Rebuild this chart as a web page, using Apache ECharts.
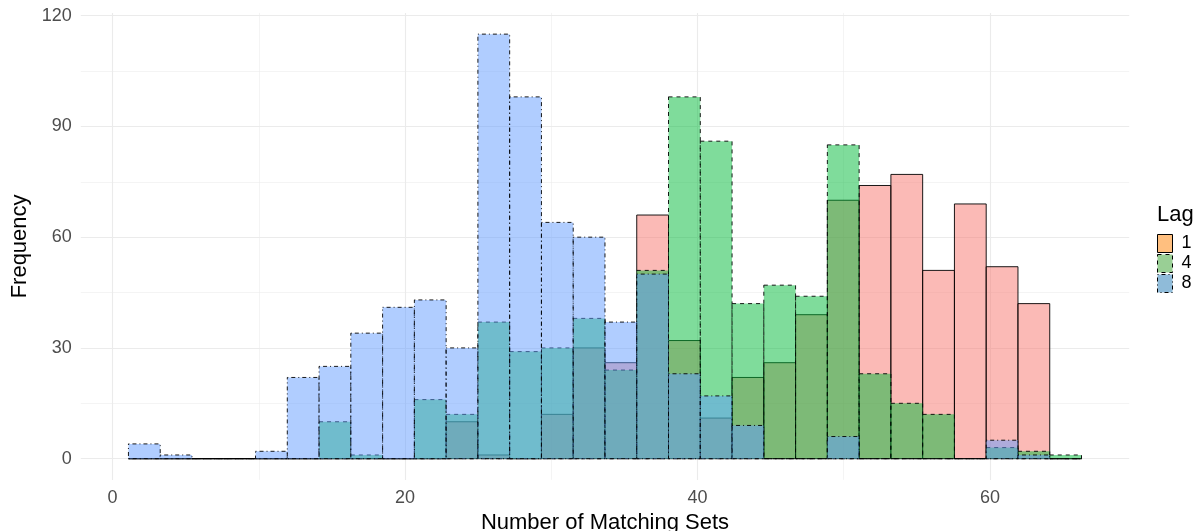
<!DOCTYPE html>
<html>
<head>
<meta charset="utf-8">
<script src="https://cdn.jsdelivr.net/npm/echarts@6/dist/echarts.min.js"></script>
<style>
  html, body { margin: 0; padding: 0; background: #ffffff; }
  #chart { width: 1199px; height: 531px; }
</style>
</head>
<body>
<div id="chart"></div>
<script>
// ---- Data (histogram, 30 bins of width 63/29 centred on multiples of the width) ----
const binWidth = 63 / 29;
const binCount = 30;
const lagNames = ['1', '4', '8'];
const lag1Counts = [0, 0, 0, 0, 0, 0, 0, 0, 0, 0, 10, 1, 0, 12, 30, 26, 66, 32, 11, 22, 26, 39, 70, 74, 77, 51, 69, 52, 42, 0];
const lag4Counts = [0, 0, 0, 0, 0, 0, 10, 1, 0, 16, 12, 37, 29, 30, 38, 24, 51, 98, 86, 42, 47, 44, 85, 23, 15, 12, 0, 3, 2, 1];
const lag8Counts = [4, 1, 0, 0, 2, 22, 25, 34, 41, 43, 30, 115, 98, 64, 60, 37, 50, 23, 17, 9, 0, 0, 6, 0, 0, 0, 0, 5, 1, 0];
const xTickLabels = ['0', '20', '40', '60'];
const yTickLabels = ['0', '30', '60', '90', '120'];

const binCenters = [];
for (let k = 1; k <= binCount; k++) binCenters.push(k * binWidth);

const FONT = 'Liberation Sans, Arial, Helvetica, sans-serif';

function histSeries(name, counts, fill, dash) {
  return {
    type: 'custom',
    name: name,
    data: counts.map((v, i) => [binCenters[i], v]),
    encode: { x: 0, y: 1 },
    renderItem: function (params, api) {
      const c = api.value(0);
      const v = api.value(1);
      const p0 = api.coord([c - binWidth / 2, v]);
      const p1 = api.coord([c + binWidth / 2, 0]);
      return {
        type: 'rect',
        shape: { x: p0[0], y: p0[1], width: p1[0] - p0[0], height: p1[1] - p0[1] },
        style: { fill: fill, stroke: '#000000', lineWidth: 0.9, lineDash: dash }
      };
    }
  };
}

const chart = echarts.init(document.getElementById('chart'), null, { renderer: 'canvas' });
chart.setOption({
  animation: false,
  backgroundColor: '#ffffff',
  grid: { left: 80.8, top: 12.9, width: 1048.4, height: 467, containLabel: false, outerBoundsMode: 'none' },
  xAxis: {
    type: 'value',
    min: -2.172,
    max: 69.52,
    splitNumber: 4,
    name: 'Number of Matching Sets',
    nameLocation: 'middle',
    nameGap: 29,
    nameTextStyle: { fontSize: 22, color: '#000000', fontFamily: FONT },
    axisLine: { show: false },
    axisTick: { show: false },
    axisLabel: {
      showMinLabel: false, showMaxLabel: false,
      color: '#4D4D4D', fontSize: 18, fontFamily: FONT, margin: 9,
      formatter: function (v) { const s = String(Math.round(v)); return xTickLabels.indexOf(s) >= 0 ? s : ''; }
    },
    splitLine: { show: true, showMinLine: false, showMaxLine: false, lineStyle: { color: '#EBEBEB', width: 1.1 } },
    minorTick: { show: false, splitNumber: 2 },
    minorSplitLine: { show: true, lineStyle: { color: '#EBEBEB', width: 0.55 } }
  },
  yAxis: {
    type: 'value',
    min: -5.75,
    max: 120.75,
    splitNumber: 4,
    name: 'Frequency',
    nameLocation: 'middle',
    nameGap: 47,
    nameTextStyle: { fontSize: 22, color: '#000000', fontFamily: FONT },
    axisLine: { show: false },
    axisTick: { show: false },
    axisLabel: {
      showMinLabel: false, showMaxLabel: false,
      color: '#4D4D4D', fontSize: 18, fontFamily: FONT, margin: 9,
      formatter: function (v) { const s = String(Math.round(v)); return yTickLabels.indexOf(s) >= 0 ? s : ''; }
    },
    splitLine: { show: true, showMinLine: false, showMaxLine: false, lineStyle: { color: '#EBEBEB', width: 1.1 } },
    minorTick: { show: false, splitNumber: 2 },
    minorSplitLine: { show: true, lineStyle: { color: '#EBEBEB', width: 0.55 } }
  },
  legend: {
    orient: 'vertical',
    left: 1157,
    top: 234,
    padding: 0,
    itemWidth: 15,
    itemHeight: 18,
    itemGap: 1,
    icon: 'rect',
    selectedMode: false,
    textStyle: { fontSize: 18, color: '#000000', fontFamily: FONT, padding: [0, 0, 0, 4] },
    data: [
      { name: lagNames[0], itemStyle: { color: 'rgba(255,127,0,0.5)', borderColor: '#000000', borderWidth: 1, borderType: 'solid' } },
      { name: lagNames[1], itemStyle: { color: 'rgba(51,160,44,0.5)', borderColor: '#000000', borderWidth: 1, borderType: [4, 4] } },
      { name: lagNames[2], itemStyle: { color: 'rgba(31,120,180,0.5)', borderColor: '#000000', borderWidth: 1, borderType: [1, 3, 4, 3] } }
    ]
  },
  graphic: [
    { type: 'text', left: 1157, top: 203.5, style: { text: 'Lag', font: '22px ' + FONT, fill: '#000000' } }
  ],
  series: [
    histSeries(lagNames[0], lag1Counts, 'rgba(248,118,109,0.5)', null),
    histSeries(lagNames[1], lag4Counts, 'rgba(0,186,56,0.5)', [4, 4]),
    histSeries(lagNames[2], lag8Counts, 'rgba(97,156,255,0.5)', [1, 3, 4, 3])
  ]
});
</script>
</body>
</html>
